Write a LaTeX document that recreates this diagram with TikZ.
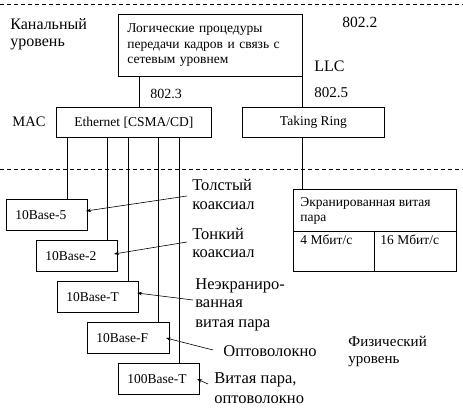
\documentclass[tikz,border=0pt]{standalone}
\usepackage{fontspec}
\setmainfont{Liberation Serif}
\usetikzlibrary{arrows.meta}
\begin{document}
\begin{tikzpicture}[x=1pt,y=-1pt, line width=0.8pt,
  box/.style={draw, inner sep=0pt, anchor=north west, font=\fontsize{13.5}{15.5}\selectfont},
  lbox/.style={box, align=left, inner xsep=9pt, minimum height=31pt},
  cell/.style={draw, inner sep=0pt, anchor=north west},
  txt/.style={anchor=base west, inner sep=0pt, font=\fontsize{13.5}{15.5}\selectfont},
  lbl/.style={anchor=base west, inner sep=0pt, font=\fontsize{16.5}{19}\selectfont},
  big/.style={anchor=base west, inner sep=0pt, font=\fontsize{16}{19}\selectfont},
  arr/.style={-{Stealth[length=5pt,width=3.5pt]}, line width=0.6pt},
  dsh/.style={dash pattern=on 4pt off 3pt, line width=0.6pt}]
\useasboundingbox (0,0) rectangle (463,411);
% dashed level separators
\coordinate (dl1) at (0,4);   \coordinate (dr1) at (463,4);
\coordinate (dl2) at (0,169); \coordinate (dr2) at (463,169);
\draw[dsh] (dl1) -- (dr1);
\draw[dsh] (dl2) -- (dr2);
% level names
\node[big] (kan1) at (10,30) {Канальный};
\node[big] (kan2) at (10,47) {уровень};
\node[big, font=\fontsize{15}{18}\selectfont] (fiz1) at (348,347) {Физический};
\node[big, font=\fontsize{15}{18}\selectfont] (fiz2) at (348,363) {уровень};
\node[big, font=\fontsize{14.5}{17}\selectfont] (mac) at (12,127) {MAC};
\node[big, font=\fontsize{15.5}{18}\selectfont] (s822) at (342,28) {802.2};
\node[big] (llct) at (314,72) {LLC};
\node[big, font=\fontsize{14}{17}\selectfont] (s823) at (150,99) {802.3};
\node[big, font=\fontsize{15}{18}\selectfont] (s825) at (314,98) {802.5};
% LLC box
\node[box, align=left, text width=166pt, inner xsep=9pt, minimum height=62pt] (llc) at (118,14)
  {Логические процедуры\\передачи кадров и связь с\\сетевым уровнем};
% MAC boxes
\node[box, minimum width=155pt, minimum height=30pt] (eth) at (56,107) {Ethernet [CSMA/CD]};
\node[box, minimum width=142pt, minimum height=30pt] (ring) at (242,107) {Taking Ring};
% connections LLC -> MAC
\coordinate (c1) at (139,0);
\draw (llc.south -| c1) -- (eth.north -| c1);
\draw (llc.south east) -- (ring.north -| llc.south east);
% physical boxes
\node[lbox, text width=63pt] (b5) at (6,199) {10Base-5};
\node[lbox, text width=63pt] (b2) at (36,240) {10Base-2};
\node[lbox, text width=63pt] (bt) at (57,281) {10Base-T};
\node[lbox, text width=64pt] (bf) at (87,322) {10Base-F};
\node[lbox, text width=63pt] (b100) at (118,363) {100Base-T};
\coordinate (v1) at (67,0);
\coordinate (v2) at (107,0);
\coordinate (v3) at (128,0);
\coordinate (v4) at (158,0);
\coordinate (v5) at (179,0);
\draw (eth.south -| v1) -- (b5.north -| v1);
\draw (eth.south -| v2) -- (b2.north -| v2);
\draw (eth.south -| v3) -- (bt.north -| v3);
\draw (eth.south -| v4) -- (bf.north -| v4);
\draw (eth.south -| v5) -- (b100.north -| v5);
% shielded twisted pair table
\node[cell, minimum width=163pt, minimum height=42pt] (stp) at (293,189) {};
\node[cell, minimum width=81pt, minimum height=40pt] (s4) at (293,231) {};
\node[cell, minimum width=82pt, minimum height=40pt] (s16) at (374,231) {};
\node[txt] (stpt1) at (300,207) {Экранированная витая};
\node[txt] (stpt2) at (300,222) {пара};
\node[txt] (s4t) at (300,245) {4 Мбит/с};
\node[txt] (s16t) at (380,245) {16 Мбит/с};
\coordinate (c2) at (302,0);
\draw (ring.south -| c2) -- (stp.north -| c2);
% media labels
\node[lbl] (l1a) at (192,191) {Толстый};
\node[lbl] (l1b) at (192,210) {коаксиал};
\node[lbl] (l2a) at (192,240) {Тонкий};
\node[lbl] (l2b) at (192,258) {коаксиал};
\node[lbl] (l3a) at (195,290) {Неэкраниро-};
\node[lbl] (l3b) at (195,308) {ванная};
\node[lbl] (l3c) at (195,328) {витая пара};
\node[lbl] (l4) at (223,357) {Оптоволокно};
\node[lbl] (l5a) at (214,383) {Витая пара,};
\node[lbl] (l5b) at (214,403) {оптоволокно};
% arrows
\coordinate (a1s) at (187,196); \coordinate (a1e) at (86,211);
\coordinate (a2s) at (187,242); \coordinate (a2e) at (114,254);
\coordinate (a3s) at (193,300); \coordinate (a3e) at (137,293);
\coordinate (a4s) at (213,350); \coordinate (a4e) at (166,338);
\coordinate (a5s) at (208,384); \coordinate (a5e) at (197,379);
\draw[arr] (a1s) -- (a1e);
\draw[arr] (a2s) -- (a2e);
\draw[arr] (a3s) -- (a3e);
\draw[arr] (a4s) -- (a4e);
\draw[arr] (a5s) -- (a5e);
\end{tikzpicture}
\end{document}
